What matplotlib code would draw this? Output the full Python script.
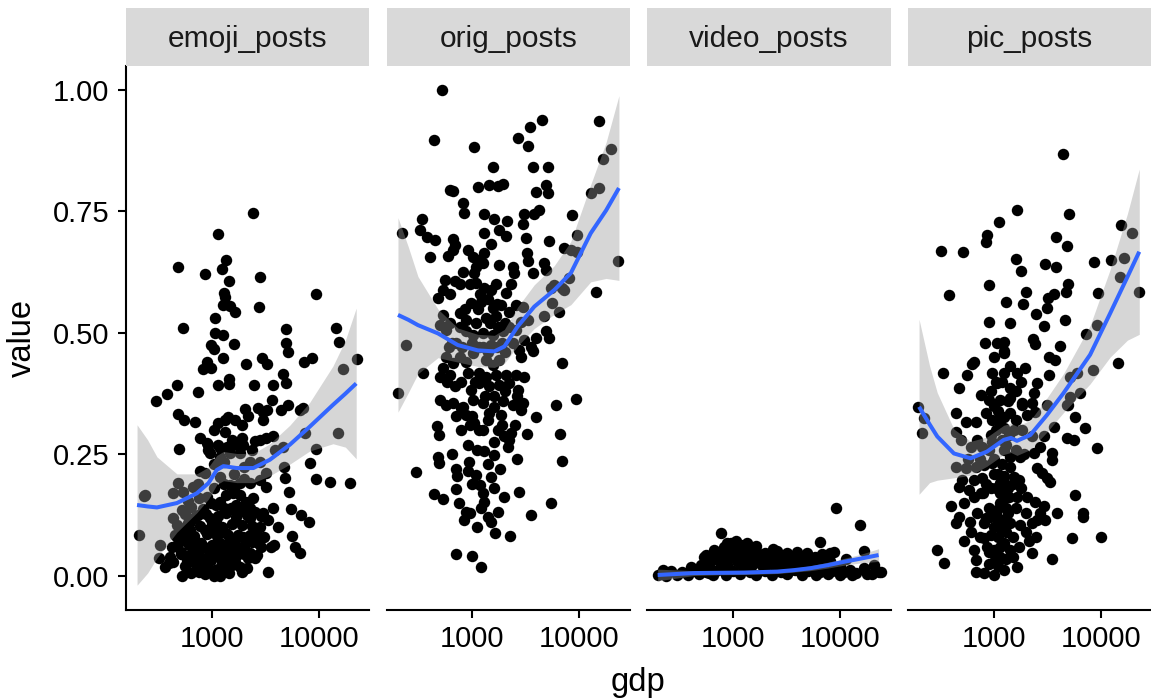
import numpy as np
import matplotlib
matplotlib.use("Agg")
import matplotlib.pyplot as plt
from matplotlib.ticker import FixedLocator, NullLocator, FixedFormatter

plt.rcParams['font.family'] = ['Liberation Sans', 'DejaVu Sans']

facets = ["emoji_posts", "orig_posts", "video_posts", "pic_posts"]
x_ticks = [1000, 10000]
x_tick_labels = ["1000", "10000"]
y_ticks = [0.0, 0.25, 0.5, 0.75, 1.0]
y_tick_labels = ["0.00", "0.25", "0.50", "0.75", "1.00"]

# ---------------- emoji_posts ----------------
emoji_gdp = [
    2410, 1140, 1350, 480, 1240, 870, 2820, 1450, 1310, 9380,
    1330, 1285, 1480, 1650, 2780, 1070, 540, 4920, 14400, 1070,
    1285, 15350, 1630, 4920, 990, 1040, 5140, 1260, 2930, 8670,
    7310, 22950, 3260, 2090, 900, 820, 985, 16750, 4650, 1460,
    470, 380, 300, 740, 1140, 1450, 2500, 3760, 4920, 3680,
    2040, 2690, 2990, 3260, 4430, 5190, 6650, 7160, 480, 545,
    700, 1150, 1330, 1430, 1650, 1330, 2990, 770, 490, 900,
    930, 1200, 1380, 1710, 1905, 1980, 2535, 2820, 3210, 3760,
    3890, 4660, 7410, 9380, 15170, 8240, 4760, 4860, 9380, 12680,
    19720, 5300, 5480, 6790, 8150, 5650, 5970, 6650, 3330, 234,
    207, 330, 318, 394, 525, 1060, 1980,
    925, 958, 1190, 1470, 1820, 2260, 2800, 773, 861, 1190,
    1470, 1820, 2260, 2800, 3240, 3240, 485, 541, 670, 238,
    436, 523, 436, 893, 993, 1190, 1370, 1580, 1820, 2100,
    2430, 2520, 1820, 2260, 3350, 4150, 2610, 2900, 3600, 3860,
    2260, 2520, 406, 830, 1070, 1370, 1470, 469, 581, 695,
    624, 504, 624, 745, 958, 1106, 861, 1028, 1231, 1419,
    1637, 1959, 720, 893, 1067, 1321, 1580, 1824, 581, 670,
    802, 993, 1231, 1473, 2180, 436, 365, 1028, 1188, 1637,
    1824,
    640, 830, 1100, 1500, 2000, 560, 700, 880, 1150, 1350,
    1700, 2150, 2900, 470, 600, 780, 1000, 1250, 1550, 1900,
    2400, 540, 680, 900, 1120, 1350, 1750, 2300, 3100, 480,
    610, 790, 1000, 1200, 1480, 2050, 2700, 520, 620, 750,
    950, 1150, 1350, 1700, 2000, 2650, 560, 720, 900, 1250,
    1550, 2150, 640, 870, 1450,
    600, 760, 1300, 1700, 2300, 750, 1050, 1300, 1650, 2000,
    1050, 1300, 1600, 2000, 1150, 1550, 2400, 1050, 1900, 2200,
    520, 450, 420, 2400, 2800, 3000, 3700, 1250, 1900, 760,
    1150,
]
emoji_val = [
    .746, .704, .650, .635, .631, .621, .614, .606, .583, .580,
    .573, .558, .556, .542, .553, .531, .511, .509, .510, .499,
    .495, .482, .478, .479, .476, .467, .461, .448, .448, .449,
    .440, .447, .436, .437, .441, .425, .427, .425, .416, .405,
    .393, .374, .359, .379, .393, .394, .393, .393, .396, .361,
    .343, .345, .338, .342, .342, .352, .342, .345, .333, .321,
    .316, .314, .321, .326, .321, .297, .320, .283, .261, .273,
    .259, .263, .266, .270, .283, .270, .278, .280, .283, .287,
    .259, .266, .295, .261, .294, .232, .225, .201, .199, .194,
    .191, .173, .137, .126, .110, .083, .060, .047, .009, .165,
    .084, .064, .036, .026, .000, .000, .012,
    .270, .252, .245, .252, .252, .235, .235, .215, .211, .204,
    .187, .191, .191, .198, .211, .184, .191, .173, .184, .167,
    .170, .136, .119, .163, .150, .153, .167, .170, .167, .153,
    .160, .132, .136, .119, .115, .101, .088, .060, .060, .064,
    .047, .036, .040, .023, .012, .026, .040, .081, .074, .071,
    .095, .098, .112, .126, .119, .112, .095, .091, .098, .084,
    .074, .081, .053, .057, .060, .064, .053, .057, .033, .029,
    .036, .033, .036, .060, .036, .029, .019, .006, .000, .029,
    .019,
    .142, .138, .145, .139, .143, .127, .122, .128, .124, .129,
    .121, .126, .123, .104, .108, .103, .107, .101, .106, .104,
    .102, .087, .083, .086, .082, .088, .084, .085, .081, .066,
    .063, .068, .064, .067, .062, .065, .068, .046, .043, .047,
    .044, .048, .045, .042, .046, .044, .021, .018, .022, .019,
    .023, .017, .006, .004, .007,
    .155, .160, .140, .145, .140, .190, .180, .190, .185, .200,
    .230, .235, .210, .225, .270, .280, .260, .300, .310, .330,
    .050, .085, .060, .070, .100, .130, .140, .028, .008, .008,
    .015,
]

# ---------------- orig_posts ----------------
orig_gdp = [
    518, 15270, 4430, 3450, 436, 2640, 3330, 1044, 19860, 16750,
    1546, 3650, 5040, 611, 655, 1121, 1440, 1720, 1915, 4860,
    5040, 3930, 15270, 12760, 824, 841, 340, 1275, 1603, 2100,
    3050, 2940, 3790, 4210, 8610, 217, 321, 379, 443, 655,
    680, 1294, 1785, 2060, 1494, 3160, 5220, 9460, 397, 589,
    655, 904, 1007, 1121, 1247, 1082, 1294, 1785, 2380, 2460,
    3240, 3280, 4690, 4860, 7190, 8310, 9570, 3650, 23120, 548,
    680, 813, 528, 1044, 1082, 1294, 1494, 2060, 5810, 7190,
    8020, 14220, 475,
    973, 1205, 1546, 1850, 2210, 2550, 2940, 757, 873, 1082,
    1343, 1663, 1722, 528, 492, 569, 757, 873, 1007, 1247,
    1546, 1915, 2210, 2550, 2840, 3280, 4690, 5600, 6470, 5410,
    6950, 4860, 5220, 3930, 3520, 3650, 3050, 2740, 2840, 241,
    6950, 569, 655, 528, 757, 873, 1007, 1343, 1546, 1785,
    344, 492, 611, 904, 1161, 1343, 1663, 2060, 2550, 3050,
    680, 973, 1161, 1440, 1785, 2210, 2640, 492, 569, 655,
    813, 1007, 1247, 1603, 1915, 2380, 2940, 6030,
    3930, 9250, 469, 485, 1028, 2300, 1990, 1603, 2170, 3240,
    6610, 1275, 1603, 2610, 6850, 475, 485, 647, 918, 904,
    1082, 299, 720, 705, 1494, 1188, 1247, 1294, 1205, 436,
    528, 1959, 2740, 5410, 873, 841, 938, 1390, 1722, 3520,
    1637, 2260, 695, 985, 1205, 199, 873, 785, 1440, 1850,
    2840,
    600, 700, 1150, 1400, 1700, 2000, 950, 1150, 1400, 780,
    1750, 2500,
    620, 760, 950, 1180, 1400, 1650, 2300, 850, 1120, 1700,
    620, 1450, 2000, 640, 800, 1000, 1250, 1500, 1900, 2400,
    580, 780, 1050, 1300, 1600, 2000, 2600, 700, 1000, 1250,
    1900, 2200, 900, 1100, 1400, 1800, 700, 1000, 1600, 750,
    1100, 1500,
]
orig_val = [
    1.000, .935, .937, .923, .896, .901, .885, .882, .879, .857,
    .841, .842, .841, .794, .792, .800, .805, .803, .806, .805,
    .787, .789, .798, .787, .768, .746, .734, .744, .734, .730,
    .744, .724, .745, .752, .743, .705, .711, .697, .691, .693,
    .681, .705, .712, .700, .683, .695, .688, .702, .657, .658,
    .671, .671, .657, .650, .643, .636, .664, .640, .636, .623,
    .664, .647, .643, .630, .674, .671, .667, .623, .647, .609,
    .606, .626, .588, .623, .602, .592, .588, .582, .599, .588,
    .613, .585, .571,
    .561, .564, .551, .558, .544, .558, .554, .541, .527, .520,
    .530, .534, .513, .537, .516, .506, .513, .503, .496, .499,
    .496, .503, .513, .506, .523, .527, .534, .561, .544, .592,
    .592, .503, .489, .489, .472, .462, .486, .465, .451, .475,
    .438, .451, .438, .427, .451, .441, .458, .444, .434, .444,
    .417, .410, .414, .417, .417, .410, .414, .414, .414, .410,
    .390, .383, .397, .390, .393, .397, .383, .362, .352, .355,
    .348, .362, .355, .348, .359, .352, .355, .352,
    .328, .364, .309, .290, .314, .295, .287, .276, .265, .292,
    .292, .257, .248, .240, .237, .245, .233, .251, .235, .215,
    .208, .213, .206, .179, .203, .187, .170, .153, .139, .169,
    .158, .162, .173, .150, .132, .115, .129, .122, .132, .126,
    .088, .082, .045, .041, .018, .376, .331, .345, .335, .331,
    .342,
    .470, .480, .470, .460, .470, .460, .310, .300, .320, .300,
    .300, .310,
    .580, .600, .600, .580, .570, .600, .600, .550, .550, .560,
    .520, .520, .520, .480, .470, .480, .470, .475, .480, .480,
    .400, .400, .400, .370, .370, .380, .370, .330, .330, .300,
    .310, .280, .270, .260, .230, .220, .220, .190, .180, .150,
    .100, .110,
]

# ---------------- video_posts ----------------
video_gdp = [
    9250, 15490, 768, 6470, 16630, 22950, 2380, 665, 537, 500,
    885, 1059, 1360, 824, 1021, 1268, 1570, 3210, 4930, 8150,
    8730, 2780, 3700, 4590, 6120, 7310, 1810, 2240, 12500, 16630,
    20600, 219, 197, 236, 641, 556, 824, 953, 1180, 1462,
    1945, 768, 1021, 1268,
    600, 900, 1300, 1900, 2600, 3400, 4300, 5500, 7000, 9000,
    260, 330, 420, 560, 720, 1000, 1450, 2000, 2800, 3800,
    5000, 6500, 8500, 11000, 14000, 300, 380, 480, 650, 850,
    1150, 1650, 2300, 3200, 4400, 6000, 7800, 10000, 13000, 18000,
    750, 1100, 1600, 2100, 2500, 3000, 4000, 700, 950, 1200,
    1400, 1750, 2100, 2700, 3400, 4400, 5800, 1100, 1300, 1650,
    2000, 2600, 4000,
    800, 1150, 1500, 1800, 2300, 2900, 3600, 4800, 6000, 8000,
    10000, 11500, 900, 1450, 1200, 1650, 2200, 3000, 5000, 6800,
    500, 400, 600, 900, 1350, 2500, 3300, 4600, 7000, 9500,
    20000, 24000,
]
video_val = [
    .139, .105, .088, .069, .051, .009, .055, .053, .040, .023,
    .067, .071, .067, .050, .047, .043, .040, .047, .047, .047,
    .050, .033, .029, .033, .023, .036, .033, .026, .012, .016,
    .023, .012, .002, .000, .033, .043, .060, .067, .064, .060,
    .036, .033, .036, .033,
    .021, .019, .022, .018, .020, .021, .017, .019, .022, .018,
    .010, .008, .011, .009, .012, .010, .008, .011, .009, .012,
    .010, .008, .011, .009, .007, .003, .002, .004, .003, .002,
    .004, .003, .002, .004, .003, .002, .004, .003, .002, .004,
    .029, .031, .028, .030, .032, .029, .031, .041, .039, .042,
    .038, .040, .041, .039, .042, .038, .040, .052, .049, .051,
    .048, .052, .050,
    .025, .025, .022, .026, .024, .020, .018, .025, .030, .030,
    .020, .035, .055, .050, .058, .062, .045, .042, .040, .045,
    .012, .018, .006, .012, .014, .013, .010, .012, .012, .010,
    .005, .008,
]

# ---------------- pic_posts ----------------
pic_gdp = [
    4430, 1650, 5100, 1113, 866, 847, 15350, 19720, 3840, 4820,
    318, 514, 1626, 1810, 2985, 3810, 8670, 12600, 16630, 15170,
    22960, 381, 912, 1313, 1875, 2000, 3210, 3680, 3140, 2500,
    4720, 4920, 9530, 904, 1430, 2965, 4660, 9310, 7310, 819,
    1074, 1240, 1240, 2320, 2410, 4190, 651, 14620, 337, 629,
    564, 1000, 1240, 964, 1240, 1430, 1650, 1970, 1074, 1430,
    3260, 3760, 3260, 2535, 2360, 5190, 5970, 8550, 472, 752,
    898, 1154, 1430, 1835, 2275, 6430, 5190, 5000, 196, 223,
    215, 440, 545, 675, 837, 964, 1240, 1430, 1835, 2050,
    2450, 3140, 4820, 5770, 7150, 9180, 3620, 4820, 5570, 440,
    489, 607, 778, 964, 1240, 1535, 1835, 2275, 2925, 2720,
    1240, 1430, 1770, 2360, 3500, 3500, 440, 545, 675, 807,
    964, 507, 651, 778, 1430, 1535, 1710, 1240, 2535, 2820,
    3140, 3370, 5770, 6900, 6900, 3890, 5370, 3500, 472, 394,
    525, 472, 440, 585, 651, 752, 1154, 1240, 1380, 1197,
    1074, 1650, 2050, 2450, 2925, 2720, 3030, 931, 807, 1000,
    1240, 1430, 1770, 2275, 2535, 607, 525, 651, 675, 807,
    866, 1000, 1037, 1240, 1430, 1710, 2120, 2275, 297, 342,
    675, 807, 1000, 1240, 1650, 10150,
    1050, 1100, 1150, 1000, 1100, 1300, 1050, 1150, 1300, 1100,
    900, 1300, 1100, 900, 1150, 1500, 1350, 850, 750, 950,
    1350, 1200, 1600, 1800,
    950, 1000, 1150, 1050, 1200, 1400, 1600, 900, 1000, 1200,
    1600, 1900, 800, 950, 1150, 1250, 1500, 1800, 700, 850,
    1150, 1350, 1600, 2000, 750, 950, 1150, 1300, 1500, 900,
    1100, 2000, 2500, 600, 580, 700,
]
pic_val = [
    .868, .753, .744, .729, .702, .686, .721, .705, .697, .678,
    .669, .666, .652, .628, .642, .636, .645, .650, .654, .616,
    .585, .577, .599, .564, .560, .585, .571, .580, .551, .539,
    .585, .601, .582, .523, .521, .515, .527, .516, .498, .479,
    .479, .482, .462, .488, .477, .473, .441, .438, .418, .436,
    .414, .451, .458, .417, .417, .431, .417, .427, .396, .386,
    .451, .444, .414, .396, .376, .410, .417, .424, .386, .372,
    .362, .362, .366, .355, .355, .376, .369, .352, .348, .325,
    .294, .335, .317, .317, .335, .321, .328, .335, .352, .331,
    .338, .352, .352, .328, .304, .263, .307, .283, .280, .297,
    .280, .266, .266, .276, .304, .300, .300, .287, .287, .266,
    .259, .245, .245, .252, .252, .239, .225, .222, .225, .228,
    .232, .198, .198, .201, .225, .204, .198, .191, .222, .211,
    .201, .194, .167, .129, .122, .129, .078, .034, .184, .143,
    .150, .122, .108, .177, .163, .170, .191, .177, .163, .150,
    .136, .163, .163, .153, .143, .129, .115, .122, .108, .101,
    .115, .108, .105, .108, .115, .091, .071, .053, .033, .078,
    .060, .053, .033, .067, .053, .060, .071, .047, .053, .026,
    .009, .006, .002, .012, .019, .080,
    .400, .340, .310, .240, .210, .270, .180, .150, .140, .120,
    .140, .090, .080, .050, .040, .080, .180, .190, .240, .290,
    .360, .400, .380, .400,
    .380, .350, .330, .300, .280, .290, .320, .260, .210, .230,
    .260, .250, .170, .180, .170, .205, .190, .180, .130, .120,
    .100, .130, .140, .130, .080, .085, .060, .035, .040, .025,
    .020, .090, .080, .110, .240, .280,
]

# ---------------- loess fits (fit and 95% half-width) ----------------
emoji_fit_gdp = [200, 251, 307, 472, 724, 931, 1114, 1285, 1710, 2449,
                 3491, 5370, 8241, 13614, 17780, 22440]
emoji_fit = [.146, .143, .141, .150, .170, .191, .218, .226, .222, .222,
             .239, .270, .307, .352, .375, .396]
emoji_ci = [.165, .137, .104, .060, .040, .033, .030, .030, .030, .030,
            .033, .040, .050, .080, .110, .155]

orig_fit_gdp = [201, 251, 309, 475, 729, 1122, 1603, 1986, 2642, 3784,
                5808, 8318, 12764, 17783, 23442]
orig_fit = [.537, .527, .516, .499, .475, .464, .462, .472, .513, .554,
            .588, .623, .705, .752, .798]
orig_ci = [.200, .150, .100, .050, .035, .033, .033, .035, .040, .045,
           .050, .065, .100, .140, .190]

video_fit_gdp = [197, 434, 741, 1268, 1820, 2588, 3715, 5297, 7586, 10814,
                 15850, 22961]
video_fit = [.002, .006, .0065, .007, .008, .009, .012, .016, .022, .029,
             .036, .043]
video_ci = [.012, .005, .004, .004, .004, .004, .004, .005, .006, .007,
            .009, .013]

pic_fit_gdp = [200, 251, 296, 424, 607, 867, 1239, 1445, 1648, 2198,
               3141, 4487, 7962, 12246, 17783, 22961]
pic_fit = [.348, .312, .287, .252, .242, .256, .280, .284, .278, .290,
           .331, .376, .455, .540, .615, .667]
pic_ci = [.180, .120, .090, .050, .035, .030, .030, .030, .030, .030,
          .035, .040, .060, .090, .130, .170]

points = [(emoji_gdp, emoji_val), (orig_gdp, orig_val),
          (video_gdp, video_val), (pic_gdp, pic_val)]
fits = [(emoji_fit_gdp, emoji_fit, emoji_ci), (orig_fit_gdp, orig_fit, orig_ci),
        (video_fit_gdp, video_fit, video_ci), (pic_fit_gdp, pic_fit, pic_ci)]

for g, v in points:
    assert len(g) == len(v)

# ---------------- layout ----------------
W, H = 1151, 700
fig = plt.figure(figsize=(W / 100, H / 100), dpi=100)
fig.patch.set_facecolor("white")

panel_left = [126, 386.7, 647.3, 908]
panel_w = 243.2
panel_bottom = 90
panel_h = 544
strip_h = 58

# x range: data span 200 .. 23400 expanded by 5% on the log scale
lo, hi = np.log10(200), np.log10(23400)
pad = 0.05 * (hi - lo)
xlim = (10 ** (lo - pad), 10 ** (hi + pad))
ylim = (-0.070, 1.049)

for i, name in enumerate(facets):
    ax = fig.add_axes([panel_left[i] / W, panel_bottom / H, panel_w / W, panel_h / H])
    ax.set_xscale("log")
    g, v = points[i]
    ax.scatter(g, v, s=68, c="black", linewidths=0, zorder=2)
    fg, fv, fc = (np.asarray(a, dtype=float) for a in fits[i])
    ax.fill_between(fg, fv - fc, fv + fc, color="#999999", alpha=0.4,
                    linewidth=0, zorder=3)
    ax.plot(fg, fv, color="#3366FF", lw=2.9, zorder=4, solid_capstyle="butt",
            solid_joinstyle="round")
    ax.set_xlim(*xlim)
    ax.set_ylim(*ylim)

    for s in ("top", "right"):
        ax.spines[s].set_visible(False)
    ax.spines["bottom"].set_linewidth(1.5)
    ax.spines["left"].set_linewidth(1.5)
    ax.xaxis.set_major_locator(FixedLocator(x_ticks))
    ax.xaxis.set_major_formatter(FixedFormatter(x_tick_labels))
    ax.xaxis.set_minor_locator(NullLocator())
    ax.tick_params(axis="x", which="major", length=6, width=1.5, pad=5,
                   labelsize=21, colors="black")
    if i == 0:
        ax.yaxis.set_major_locator(FixedLocator(y_ticks))
        ax.yaxis.set_major_formatter(FixedFormatter(y_tick_labels))
        ax.tick_params(axis="y", which="major", length=6, width=1.5, pad=6,
                       labelsize=21, colors="black")
    else:
        ax.spines["left"].set_visible(False)
        ax.yaxis.set_major_locator(NullLocator())
    ax.yaxis.set_minor_locator(NullLocator())

    sax = fig.add_axes([panel_left[i] / W, (H - 8 - strip_h) / H, panel_w / W, strip_h / H])
    sax.set_facecolor("#D9D9D9")
    for s in sax.spines.values():
        s.set_visible(False)
    sax.set_xticks([])
    sax.set_yticks([])
    sax.text(0.5, 0.47, name, ha="center", va="center", fontsize=21.5,
             color="#1A1A1A", transform=sax.transAxes)

fig.text(638 / W, (H - 683) / H, "gdp", ha="center", va="center", fontsize=23.5)
fig.text(22 / W, (H - 338) / H, "value", ha="center", va="center",
         rotation=90, fontsize=23.5)

fig.savefig("out.png", dpi=100)
